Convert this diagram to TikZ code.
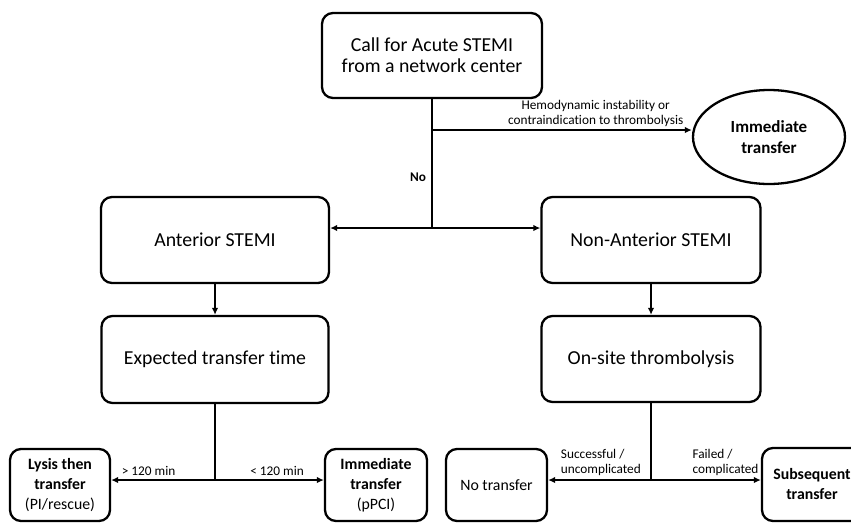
\documentclass[tikz,border=0pt]{standalone}
\usepackage{fontspec}
\setmainfont[Ligatures=NoCommon]{Carlito}
\usetikzlibrary{arrows.meta,positioning,shapes.geometric}

\tikzset{
  box/.style={draw,line width=2.3pt,rounded corners=11pt,align=center,inner sep=2pt,
    font=\fontsize{19.8}{21}\selectfont},
  endbox/.style={box,minimum width=100pt,minimum height=72pt,
    font=\fontsize{15.8}{20}\selectfont},
  lab/.style={font=\fontsize{13.3}{15.5}\selectfont,inner sep=1pt},
  link/.style={line width=2pt,-{Latex[length=7pt,width=6.5pt]}},
  trunk/.style={line width=2pt}
}

\begin{document}
\begin{tikzpicture}[x=1pt,y=-1pt]
  \clip (0,0) rectangle (851,523);
  \node[box,minimum width=220pt,minimum height=85pt] (call) at (432,55.5)
    {Call for Acute STEMI\\from a network center};
  \node[ellipse,draw,line width=2.3pt,minimum width=152pt,minimum height=94pt,align=center,
    font=\fontsize{17}{21}\selectfont\bfseries] (imm) at (769,137) {Immediate\\transfer};
  \node[box,minimum width=228pt,minimum height=86pt] (ant) at (215,240) {Anterior STEMI};
  \node[box,minimum width=219pt,minimum height=86pt] (nonant) at (651,240) {Non-Anterior STEMI};
  \node[box,minimum width=227pt,minimum height=87pt] (exptime) at (215,359.5) {Expected transfer time};
  \node[box,minimum width=219pt,minimum height=86pt] (onsite) at (651,359) {On-site thrombolysis};
  \node[endbox] (lysis) at (60,485) {\textbf{Lysis then}\\\textbf{transfer}\\(PI/rescue)};
  \node[endbox,minimum width=102pt] (pci) at (376,485) {\textbf{Immediate}\\\textbf{transfer}\\(pPCI)};
  \node[endbox,minimum width=101pt] (notr) at (496.5,485) {No transfer};
  \node[endbox,minimum height=73pt] (subseq) at (812,484.5) {\textbf{Subsequent}\\\textbf{transfer}};

  \coordinate (hemo) at (432,130);
  \coordinate (fork) at (432,228);
  \coordinate (lfork) at (215,480);
  \coordinate (rfork) at (651,480);

  \draw[trunk] (call.south) -- (fork);
  \draw[link] (hemo) -- node[lab,above=1pt,pos=0.63,align=center]
    {Hemodynamic instability or\\contraindication to thrombolysis} (imm.west |- hemo);
  \node[lab,font=\fontsize{13.3}{15.5}\selectfont\bfseries] (nolab) at (418,177) {No};
  \draw[link] (fork) -- (ant.east |- fork);
  \draw[link] (fork) -- (nonant.west |- fork);
  \draw[link] (ant) -- (exptime);
  \draw[link] (nonant) -- (onsite);

  \draw[trunk] (exptime.south) -- (lfork);
  \draw[link] (lfork) -- node[lab,above=2pt,pos=0.64]{> 120 min} (lysis.east |- lfork);
  \draw[link] (lfork) -- node[lab,above=2pt,pos=0.57]{< 120 min} (pci.west |- lfork);
  \draw[trunk] (onsite.south) -- (rfork);
  \draw[link] (rfork) -- node[lab,anchor=south west,pos=0.895,yshift=2pt,align=left]
    {Successful /\\uncomplicated} (notr.east |- rfork);
  \draw[link] (rfork) -- node[lab,anchor=south west,pos=0.36,yshift=2pt,align=left]
    {Failed /\\complicated} (subseq.west |- rfork);
\end{tikzpicture}
\end{document}
